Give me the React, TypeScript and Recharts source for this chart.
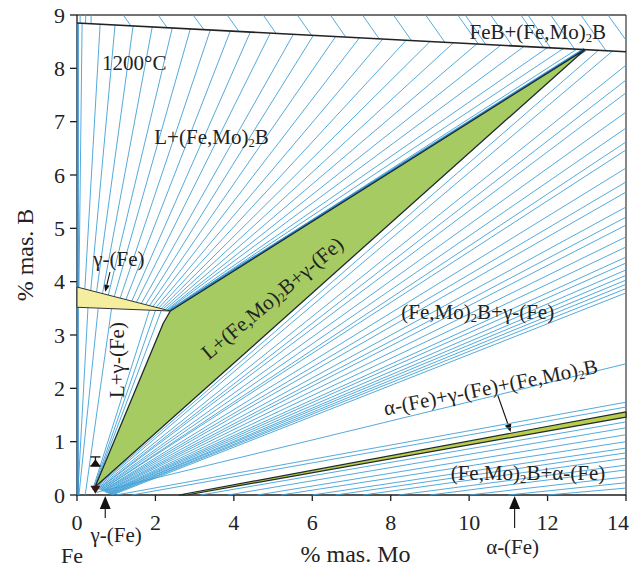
import React from 'react';
import { ScatterChart, Scatter, XAxis, YAxis, ReferenceLine } from 'recharts';

const FONT = '"Liberation Serif", "Times New Roman", Times, serif';
const TIE = '#41a0d6';
const INK = '#1b1b1b';

type Seg = [number, number, number, number];

const xTicks = [0, 2, 4, 6, 8, 10, 12, 14];
const yTicks = [0, 1, 2, 3, 4, 5, 6, 7, 8, 9];

// phase boundary FeB+(Fe,Mo)2B / L+(Fe,Mo)2B
const topBoundary: Seg[] = [[0, 8.85, 14, 8.31]];
const leftEdge: Seg[] = [[0.02, 0, 0.02, 8.85]];

// tie lines FeB + (Fe,Mo)2B
const feBTieLines: Seg[] = [
  [0.08, 9, 0.08, 8.85], [0.22, 9, 0.22, 8.84], [0.36, 9, 0.36, 8.84],
  [1.18, 9, 1.37, 8.8], [2.07, 9, 2.3, 8.76], [2.96, 9, 3.23, 8.73],
  [3.83, 9, 4.13, 8.69], [4.75, 9, 5.08, 8.65], [5.62, 9, 5.98, 8.62],
  [6.46, 9, 6.85, 8.59], [7.28, 9, 7.71, 8.55], [8.07, 9, 8.53, 8.52],
  [8.89, 9, 9.38, 8.49], [9.71, 9, 10.23, 8.46], [9.9, 9, 10.42, 8.45],
  [10.55, 9, 11.1, 8.42], [11.32, 9, 11.9, 8.39], [11.5, 9, 12.08, 8.38],
  [12.08, 9, 12.69, 8.36], [12.85, 9, 13.49, 8.33], [13.54, 9, 14, 8.53],
];

// tie lines L + (Fe,Mo)2B
const liquidTieLines: Seg[] = [
  [0.05, 3.89, 0.13, 8.84], [0.2, 3.86, 0.59, 8.83], [0.35, 3.83, 0.97, 8.81],
  [0.5, 3.81, 1.43, 8.79], [0.65, 3.78, 1.92, 8.78], [0.8, 3.75, 2.43, 8.76],
  [0.95, 3.72, 2.89, 8.74], [1.1, 3.69, 3.4, 8.72], [1.25, 3.67, 3.91, 8.7],
  [1.4, 3.64, 4.42, 8.68], [1.52, 3.62, 4.93, 8.66], [1.64, 3.59, 5.52, 8.64],
  [1.75, 3.57, 6.03, 8.62], [1.85, 3.55, 6.6, 8.6], [1.94, 3.54, 7.2, 8.57],
  [2.02, 3.52, 7.8, 8.55], [2.09, 3.51, 8.4, 8.53], [2.15, 3.5, 9.0, 8.5],
  [2.2, 3.49, 9.6, 8.48], [2.25, 3.48, 10.2, 8.46], [2.29, 3.47, 10.8, 8.43],
  [2.32, 3.47, 11.4, 8.41], [2.35, 3.46, 12.0, 8.39], [2.37, 3.46, 12.4, 8.37],
  [2.39, 3.45, 12.75, 8.36],
];

// tie lines L + gamma-(Fe)
const lGammaTieLines: Seg[] = [
  [0.02, 0, 0.28, 3.51], [0.05, 0, 0.54, 3.5], [0.21, 0, 0.88, 3.49],
  [0.4, 0.1, 1.85, 3.47], [0.42, 0.11, 2.0, 3.46], [0.44, 0.13, 2.15, 3.46],
];

// tie lines (Fe,Mo)2B + gamma-(Fe)
const gammaTieLines: Seg[] = [
  [0.48, 0.14, 13.3, 8.34], [0.5, 0.13, 13.65, 8.32],
  [0.52, 0.12, 14, 8.06], [0.54, 0.11, 14, 7.78], [0.55, 0.11, 14, 7.54],
  [0.57, 0.1, 14, 7.18], [0.59, 0.1, 14, 6.88], [0.61, 0.09, 14, 6.62],
  [0.62, 0.09, 14, 6.47], [0.64, 0.08, 14, 6.13], [0.66, 0.08, 14, 5.87],
  [0.67, 0.07, 14, 5.68], [0.69, 0.07, 14, 5.4], [0.71, 0.06, 14, 5.21],
  [0.72, 0.05, 14, 5.06], [0.74, 0.05, 14, 4.84], [0.76, 0.04, 14, 4.65],
  [0.78, 0.04, 14, 4.46], [0.79, 0.03, 14, 4.35], [0.81, 0.03, 14, 4.22],
  [0.83, 0.02, 14, 4.12], [0.84, 0.02, 14, 4.03], [0.86, 0.01, 14, 3.95],
  [0.88, 0.01, 14, 3.87], [0.9, 0, 14, 3.79],
  [0.5, 0.05, 14, 2.46], [1.0, 0, 14, 1.74], [1.4, 0, 14, 1.65],
];

// tie lines (Fe,Mo)2B + alpha-(Fe)
const alphaTieLines: Seg[] = [
  [3.15, 0, 14, 1.37], [3.85, 0, 14, 1.26], [4.6, 0, 14, 1.13], [5.2, 0, 14, 1.0],
  [6.0, 0, 14, 0.88], [6.6, 0, 14, 0.79], [7.3, 0, 14, 0.69], [8.2, 0, 14, 0.56],
  [9.0, 0, 14, 0.47], [10.0, 0, 14, 0.34], [11.0, 0, 14, 0.23], [12.0, 0, 14, 0.13],
];

// phase fields (polygon vertices)
const gammaFieldX = [0, 2.38, 0];
const gammaFieldY = [3.9, 3.45, 3.52];
const threePhaseX = [0.46, 2.2, 2.38, 12.95];
const threePhaseY = [0.15, 3.22, 3.45, 8.35];
const ternaryBandX = [2.6, 14, 14, 2.8];
const ternaryBandY = [0, 1.56, 1.46, 0];
const greenEdge: Seg[] = [[2.38, 3.45, 12.95, 8.35]];

// region labels
const labelText = [
  '1200°C', 'L+(Fe,Mo)_2B', 'FeB+(Fe,Mo)_2B', 'γ-(Fe)', 'L+(Fe,Mo)_2B+γ-(Fe)',
  'L+γ-(Fe)', '(Fe,Mo)_2B+γ-(Fe)', 'α-(Fe)+γ-(Fe)+(Fe,Mo)_2B', '(Fe,Mo)_2B+α-(Fe)',
];
const labelX = [1.46, 3.43, 11.75, 1.07, 4.98, 1.02, 10.22, 10.55, 11.5];
const labelY = [8.1, 6.71, 8.68, 4.42, 3.69, 2.53, 3.43, 2.02, 0.41];
const labelAngle = [0, 0, 0, 0, -40, -90, 0, -11.3, 0];

// point markers
const markerX = [0.47, 0.47];
const markerY = [0.63, 0.1];
const markerKind = ['ibeam', 'down'];

// arrows [x1, y1, x2, y2]
const arrowGammaTop: Seg = [0.84, 4.18, 0.72, 3.81];
const arrowTernary: Seg = [10.73, 1.87, 11.06, 1.18];
const arrowGammaAxis: Seg = [0.72, -0.43, 0.72, -0.02];
const arrowAlphaAxis: Seg = [11.16, -0.62, 11.16, -0.02];

const segPoints = (segs: Seg[]) =>
  segs.flatMap(([a, b, c, d]) => [{ x: a, y: b }, { x: c, y: d }]);
const polyPoints = (xs: number[], ys: number[]) => xs.map((x, i) => ({ x, y: ys[i] }));

const labelData = labelText.map((text, i) => ({ x: labelX[i], y: labelY[i], text, angle: labelAngle[i] }));
const markerData = markerKind.map((kind, i) => ({ x: markerX[i], y: markerY[i], kind }));

const noDot = () => <g />;

const segmentsLine = (stroke: string, width: number) => (props: any) => {
  const pts = props.points || [];
  let d = '';
  for (let i = 0; i + 1 < pts.length; i += 2) {
    d += `M${pts[i].x},${pts[i].y}L${pts[i + 1].x},${pts[i + 1].y}`;
  }
  return <path d={d} stroke={stroke} strokeWidth={width} fill="none" />;
};

const polygonLine = (fill: string, stroke: string, width: number) => (props: any) => {
  const pts = props.points || [];
  const d = pts.map((p: any, i: number) => `${i ? 'L' : 'M'}${p.x},${p.y}`).join('') + 'Z';
  return <path d={d} fill={fill} stroke={stroke} strokeWidth={width} strokeLinejoin="round" />;
};

const richText = (text: string, size: number) => {
  const parts = text.split('_2');
  const out: any[] = [];
  parts.forEach((p, i) => {
    if (i > 0) {
      out.push(<tspan key={'s' + i} fontSize={size * 0.6} dy={size * 0.28}>2</tspan>);
      out.push(<tspan key={'t' + i} dy={-size * 0.28}>{p}</tspan>);
    } else {
      out.push(<tspan key={'t' + i}>{p}</tspan>);
    }
  });
  return out;
};

const LabelShape = (props: any) => {
  const { cx, cy, payload } = props;
  const size = 21;
  return (
    <text
      x={cx}
      y={cy}
      textAnchor="middle"
      dominantBaseline="central"
      fontFamily={FONT}
      fontSize={size}
      fill="#222"
      transform={payload.angle ? `rotate(${payload.angle} ${cx} ${cy})` : undefined}
    >
      {richText(payload.text, size)}
    </text>
  );
};

const MarkerShape = (props: any) => {
  const { cx, cy, payload } = props;
  if (payload.kind === 'ibeam') {
    return (
      <g stroke="#111" strokeWidth={1.3}>
        <line x1={cx - 5} x2={cx + 5} y1={cy - 4.5} y2={cy - 4.5} />
        <line x1={cx - 5} x2={cx + 5} y1={cy + 4.5} y2={cy + 4.5} />
        <line x1={cx} x2={cx} y1={cy - 4.5} y2={cy + 4.5} />
        <path d={`M${cx - 4},${cy + 4.5}L${cx + 4},${cy + 4.5}L${cx},${cy - 1}Z`} fill="#111" />
      </g>
    );
  }
  return <path d={`M${cx - 5},${cy - 4}L${cx + 5},${cy - 4}L${cx},${cy + 4}Z`} fill="#3a1414" />;
};

const arrowShape = (head: number, label?: string, ldx = 0, ldy = 0) => (props: any) => {
  const { x1, y1, x2, y2 } = props;
  const ang = Math.atan2(y2 - y1, x2 - x1);
  const hw = head * 0.42;
  const bx = x2 - head * Math.cos(ang);
  const by = y2 - head * Math.sin(ang);
  const px = -Math.sin(ang) * hw;
  const py = Math.cos(ang) * hw;
  return (
    <g>
      <line x1={x1} y1={y1} x2={bx} y2={by} stroke="#111" strokeWidth={1.1} />
      <path d={`M${x2},${y2}L${bx + px},${by + py}L${bx - px},${by - py}Z`} fill="#111" />
      {label ? (
        <text x={x1 + ldx} y={y1 + ldy} textAnchor="middle" dominantBaseline="central" fontFamily={FONT} fontSize={21} fill="#222">
          {label}
        </text>
      ) : null}
    </g>
  );
};

const XTitle = (props: any) => {
  const vb = props.viewBox || { x: 77, y: 495, width: 548, height: 75 };
  return (
    <g fontFamily={FONT} fill="#222">
      <text x={vb.x + vb.width / 2 + 4} y={vb.y + 67} textAnchor="middle" fontSize={24}>% mas. Mo</text>
      <text x={vb.x - 5} y={vb.y + 68} textAnchor="middle" fontSize={22}>Fe</text>
    </g>
  );
};

const YTitle = (props: any) => {
  const vb = props.viewBox || { x: 0, y: 15, width: 77, height: 480 };
  const cx = vb.x + 25;
  const cy = vb.y + vb.height / 2;
  return (
    <text x={cx} y={cy} textAnchor="middle" dominantBaseline="central" fontFamily={FONT} fontSize={24} fill="#222" transform={`rotate(-90 ${cx} ${cy})`}>
      % mas. B
    </text>
  );
};

const seg = (s: Seg) => [{ x: s[0], y: s[1] }, { x: s[2], y: s[3] }];

export default function App() {
  return (
    <div style={{ position: 'absolute', left: 0, top: 0, background: '#fff' }}>
      <ScatterChart width={629} height={570} margin={{ top: 15, right: 3, bottom: 0, left: 0 }}>
        <XAxis
          type="number"
          dataKey="x"
          domain={[0, 14]}
          ticks={xTicks}
          height={75}
          tickSize={6}
          tickMargin={13}
          axisLine={{ stroke: INK, strokeWidth: 1.3 }}
          tickLine={{ stroke: INK, strokeWidth: 1.3 }}
          tick={{ fontSize: 22, fill: '#222', fontFamily: FONT }}
          label={<XTitle />}
        />
        <YAxis
          type="number"
          dataKey="y"
          domain={[0, 9]}
          ticks={yTicks}
          width={77}
          tickSize={7}
          tickMargin={5}
          axisLine={{ stroke: INK, strokeWidth: 1.3 }}
          tickLine={{ stroke: INK, strokeWidth: 1.3 }}
          tick={{ fontSize: 22, fill: '#222', fontFamily: FONT }}
          label={<YTitle />}
        />
        <ReferenceLine y={9} stroke="#444" strokeWidth={1.3} />
        <ReferenceLine x={14} stroke="#444" strokeWidth={1.3} />
        <ReferenceLine segment={seg(arrowGammaTop)} ifOverflow="visible" shape={arrowShape(7)} />
        <ReferenceLine segment={seg(arrowTernary)} ifOverflow="visible" shape={arrowShape(8)} />
        <ReferenceLine segment={seg(arrowGammaAxis)} ifOverflow="visible" shape={arrowShape(13, 'γ-(Fe)', 11, 17)} />
        <ReferenceLine segment={seg(arrowAlphaAxis)} ifOverflow="visible" shape={arrowShape(13, 'α-(Fe)', -2, 19)} />

        <Scatter data={segPoints(feBTieLines)} shape={noDot} line={segmentsLine(TIE, 0.9)} isAnimationActive={false} />
        <Scatter data={segPoints(liquidTieLines)} shape={noDot} line={segmentsLine(TIE, 0.9)} isAnimationActive={false} />
        <Scatter data={segPoints(lGammaTieLines)} shape={noDot} line={segmentsLine(TIE, 0.9)} isAnimationActive={false} />
        <Scatter data={segPoints(gammaTieLines)} shape={noDot} line={segmentsLine(TIE, 0.9)} isAnimationActive={false} />
        <Scatter data={segPoints(alphaTieLines)} shape={noDot} line={segmentsLine(TIE, 0.9)} isAnimationActive={false} />
        <Scatter data={segPoints(leftEdge)} shape={noDot} line={segmentsLine('#2f8fcf', 2)} isAnimationActive={false} />
        <Scatter data={segPoints(greenEdge)} shape={noDot} line={segmentsLine('#2f8fcf', 4)} isAnimationActive={false} />

        <Scatter data={polyPoints(gammaFieldX, gammaFieldY)} shape={noDot} line={polygonLine('#f4ee9e', '#333', 1)} isAnimationActive={false} />
        <Scatter data={polyPoints(threePhaseX, threePhaseY)} shape={noDot} line={polygonLine('#a6cb62', '#1e2a30', 1.3)} isAnimationActive={false} />
        <Scatter data={polyPoints(ternaryBandX, ternaryBandY)} shape={noDot} line={polygonLine('#b9cc48', '#1e2a30', 1.2)} isAnimationActive={false} />
        <Scatter data={segPoints(topBoundary)} shape={noDot} line={segmentsLine('#222', 1.6)} isAnimationActive={false} />

        <Scatter data={markerData} shape={MarkerShape} isAnimationActive={false} />
        <Scatter data={labelData} shape={LabelShape} isAnimationActive={false} />
      </ScatterChart>
    </div>
  );
}
